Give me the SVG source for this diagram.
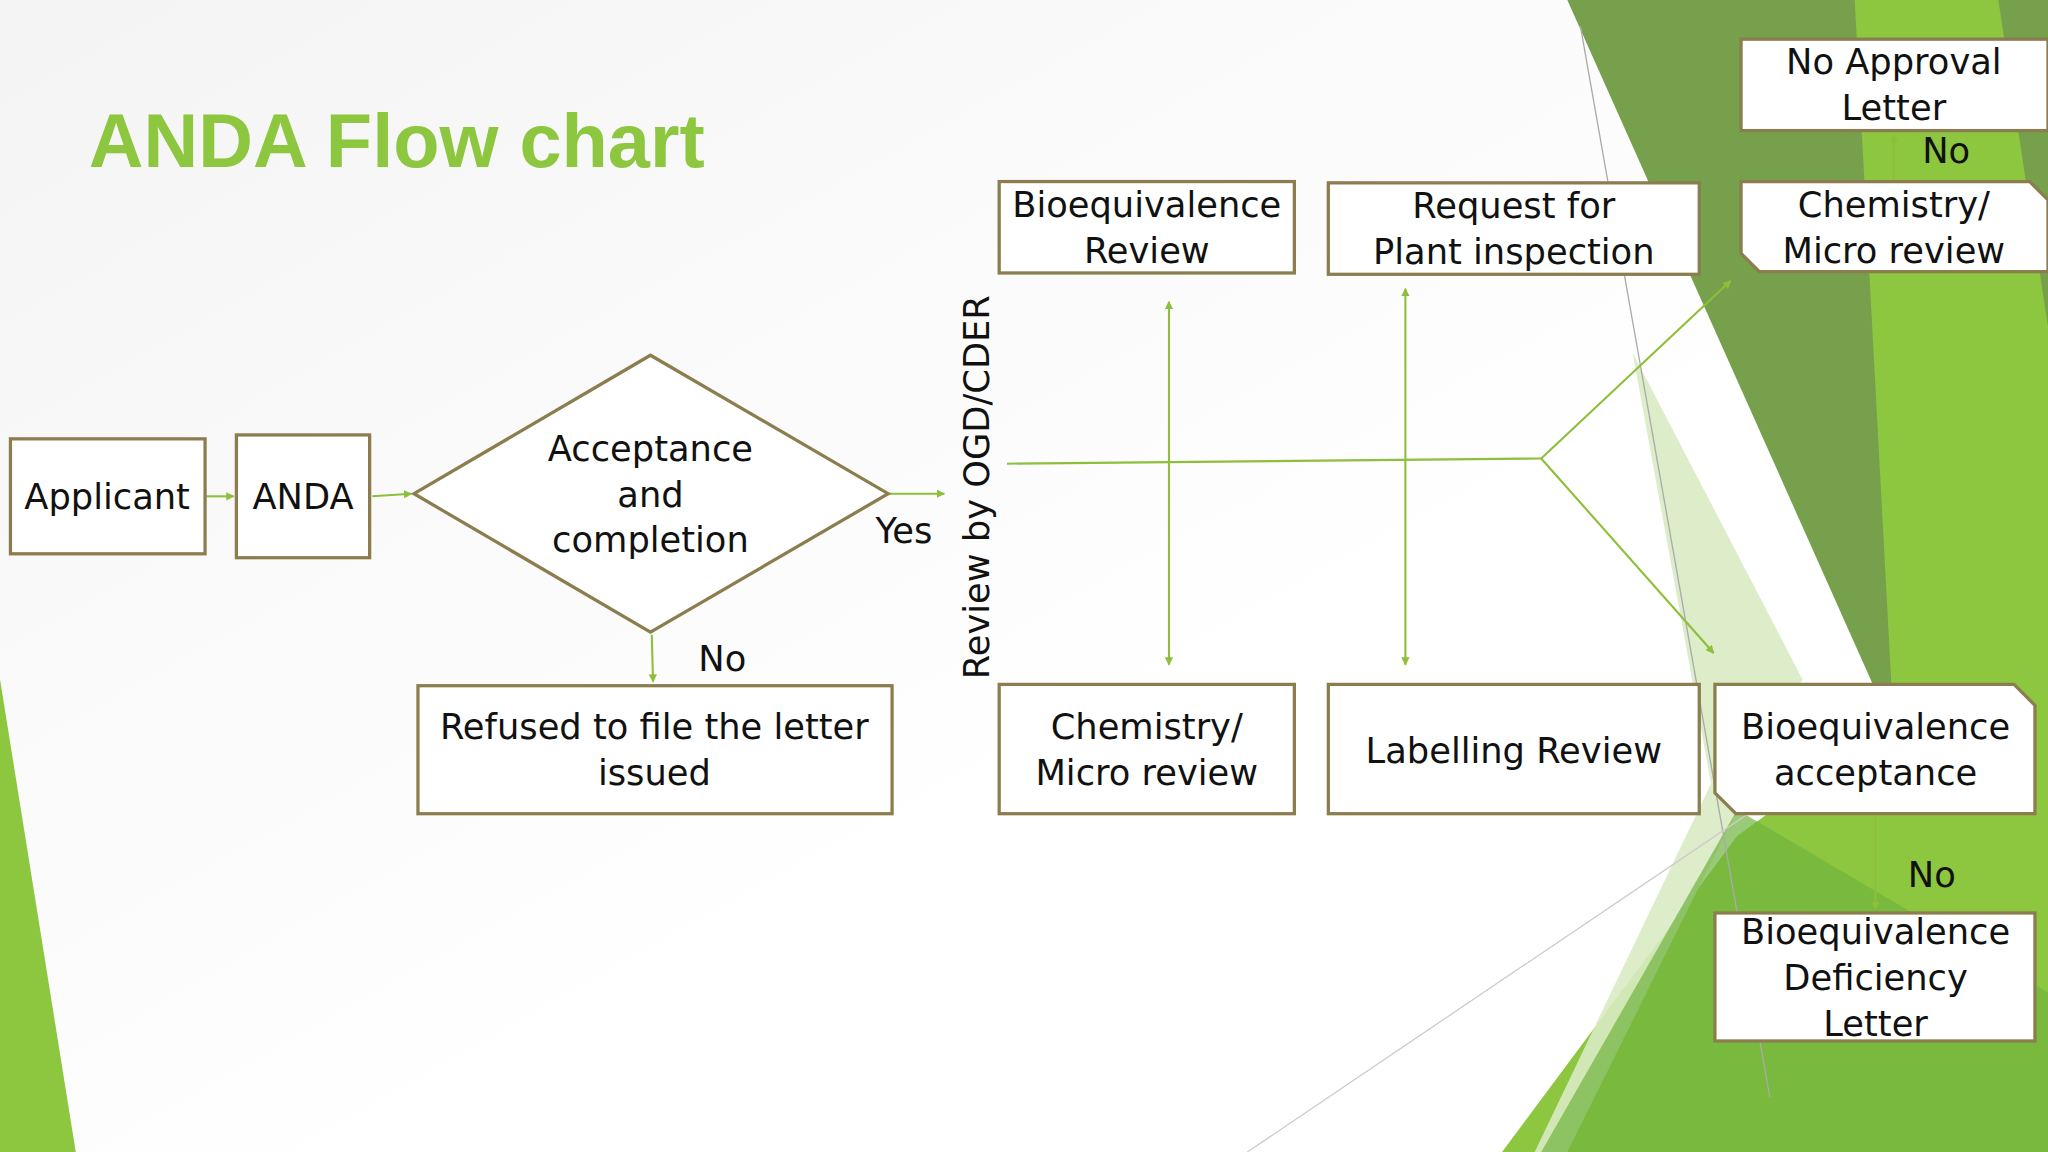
<svg xmlns="http://www.w3.org/2000/svg" width="2048" height="1152" viewBox="0 0 2048 1152">
<defs>
<linearGradient id="bg" x1="0" y1="0" x2="1" y2="1"><stop offset="0" stop-color="#f4f4f4"/><stop offset="0.6" stop-color="#ffffff"/></linearGradient>
<marker id="ah" viewBox="0 0 10 10" refX="9" refY="5" markerWidth="4" markerHeight="4" orient="auto-start-reverse"><path d="M0,0 L10,5 L0,10 z" fill="#8dbf3a"/></marker>
<style>
.box{fill:#fff;stroke:#8b7d4e;stroke-width:2.5}
.t{font-family:"DejaVu Sans",sans-serif;font-size:27px;fill:#111;text-anchor:middle}
.c{stroke:#8dbf3a;stroke-width:1.6;fill:none}
.a{marker-end:url(#ah)}
.b{marker-start:url(#ah);marker-end:url(#ah)}
</style>
</defs>
<g transform="scale(1.30612)">
<rect width="1568" height="882" fill="url(#bg)"/>
<g id="background">
<polygon points="0,520 58,882 0,882" fill="#8dc63f"/>
<polygon points="1405,0 1568,0 1568,882 1150,882 1330,640 1440,560" fill="#8dc63f"/>
<polygon points="1200,0 1420,0 1450,560" fill="#76a04b"/>
<polygon points="1530,0 1568,0 1568,250" fill="#76a04b"/>
<polygon points="1250,270 1380,520 1200,882 1175,882 1310,600" fill="#d9eac3" opacity="0.9"/>
<polygon points="1330,620 1568,760 1568,882 1180,882" fill="#6fb43f" opacity="0.7"/>
<line x1="1210" y1="20" x2="1355" y2="840" stroke="#aaa" stroke-width="1"/>
<line x1="955" y1="882" x2="1340" y2="622" stroke="#ccc" stroke-width="1"/>
</g>
<text x="68" y="128" font-family="Liberation Sans, sans-serif" font-weight="bold" font-size="58" fill="#8dc63f">ANDA Flow chart</text>
<g id="connectors">
<line class="c a" x1="158" y1="380" x2="179" y2="380"/>
<line class="c a" x1="285" y1="380" x2="315" y2="378"/>
<line class="c a" x1="681" y1="378" x2="723" y2="378"/>
<line class="c a" x1="499" y1="486" x2="500" y2="522"/>
<polyline class="c" points="771,355 1180,351"/>
<line class="c a" x1="1180" y1="351" x2="1325" y2="215"/>
<line class="c a" x1="1180" y1="351" x2="1312" y2="500"/>
<line class="c b" x1="895" y1="231" x2="895" y2="509"/>
<line class="c b" x1="1076" y1="221" x2="1076" y2="509"/>
<line class="c a" x1="1450" y1="138" x2="1450" y2="103"/>
<line class="c a" x1="1436" y1="625" x2="1436" y2="696"/>
</g>
<g id="applicant"><rect class="box" x="8" y="336" width="149" height="88"/><text class="t" x="82" y="390">Applicant</text></g>
<g id="anda"><rect class="box" x="181" y="333" width="102" height="94"/><text class="t" x="232" y="390">ANDA</text></g>
<g id="acceptance"><polygon class="box" points="317,378 498,272 680,378 498,484"/>
<text class="t" x="498" y="353">Acceptance</text><text class="t" x="498" y="388">and</text><text class="t" x="498" y="423">completion</text></g>
<text class="t" x="692" y="416">Yes</text>
<text class="t" x="553" y="514">No</text>
<g id="refused"><rect class="box" x="320" y="525" width="363" height="98"/><text class="t" x="501" y="566">Refused to file the letter</text><text class="t" x="501" y="601">issued</text></g>
<text class="t" transform="translate(757,373) rotate(-90)">Review by OGD/CDER</text>
<g id="be-review"><rect class="box" x="765" y="139" width="226" height="70"/><text class="t" x="878" y="166">Bioequivalence</text><text class="t" x="878" y="201">Review</text></g>
<g id="plant"><rect class="box" x="1017" y="140" width="284" height="70"/><text class="t" x="1159" y="167">Request for</text><text class="t" x="1159" y="202">Plant inspection</text></g>
<g id="chem-top"><polygon class="box" points="1333,139 1554,139 1568,153 1568,208 1347,208 1333,194"/><text class="t" x="1450" y="166">Chemistry/</text><text class="t" x="1450" y="201">Micro review</text></g>
<g id="no-approval"><rect class="box" x="1333" y="30" width="235" height="70"/><text class="t" x="1450" y="57">No Approval</text><text class="t" x="1450" y="92">Letter</text></g>
<text class="t" x="1490" y="125">No</text>
<g id="chem-bottom"><rect class="box" x="765" y="524" width="226" height="99"/><text class="t" x="878" y="566">Chemistry/</text><text class="t" x="878" y="601">Micro review</text></g>
<g id="labelling"><rect class="box" x="1017" y="524" width="284" height="99"/><text class="t" x="1159" y="584">Labelling Review</text></g>
<g id="be-accept"><polygon class="box" points="1313,524 1542,524 1558,540 1558,623 1329,623 1313,607"/><text class="t" x="1436" y="566">Bioequivalence</text><text class="t" x="1436" y="601">acceptance</text></g>
<text class="t" x="1479" y="679">No</text>
<g id="be-deficiency"><rect class="box" x="1313" y="699" width="245" height="98"/><text class="t" x="1436" y="723">Bioequivalence</text><text class="t" x="1436" y="758">Deficiency</text><text class="t" x="1436" y="793">Letter</text></g>
</g>
</svg>
